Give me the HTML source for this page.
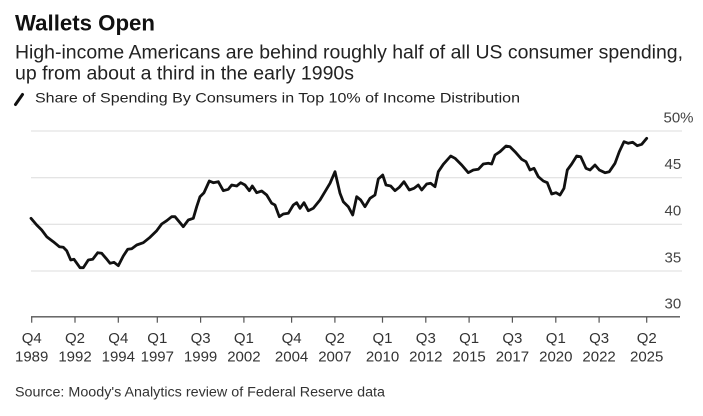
<!DOCTYPE html>
<html>
<head>
<meta charset="utf-8">
<style>
  html, body { margin:0; padding:0; background:#fff; }
  svg { display:block; }
  text { font-family: "Liberation Sans", Arial, sans-serif; }
</style>
</head>
<body>
<svg width="703" height="416" viewBox="0 0 703 416" xmlns="http://www.w3.org/2000/svg">
  <rect x="0" y="0" width="703" height="416" fill="#ffffff"/>

  <!-- Title -->
  <text x="15" y="30.5" font-size="22" font-weight="bold" fill="#111" textLength="140" lengthAdjust="spacingAndGlyphs">Wallets Open</text>
  <!-- Subtitle -->
  <text x="15" y="58.5" font-size="19" fill="#222" textLength="668" lengthAdjust="spacingAndGlyphs">High-income Americans are behind roughly half of all US consumer spending,</text>
  <text x="15" y="79.5" font-size="19" fill="#222" textLength="339" lengthAdjust="spacingAndGlyphs">up from about a third in the early 1990s</text>

  <!-- Legend -->
  <line x1="15.5" y1="104.5" x2="22.5" y2="94.5" stroke="#111" stroke-width="3" stroke-linecap="round"/>
  <text x="35" y="102.5" font-size="14" fill="#222" textLength="485" lengthAdjust="spacingAndGlyphs">Share of Spending By Consumers in Top 10% of Income Distribution</text>

  <!-- Gridlines -->
  <g stroke="#dcdcdc" stroke-width="1">
    <line x1="31" y1="131" x2="682" y2="131"/>
    <line x1="31" y1="177.7" x2="682" y2="177.7"/>
    <line x1="31" y1="224.3" x2="682" y2="224.3"/>
    <line x1="31" y1="271" x2="682" y2="271"/>
  </g>

  <!-- Y labels -->
  <g font-size="15" fill="#444">
    <text x="663.5" y="122.3">50%</text>
    <text x="664.5" y="169">45</text>
    <text x="664.5" y="215.7">40</text>
    <text x="664.5" y="262.3">35</text>
    <text x="664.5" y="308.5">30</text>
  </g>

  <!-- X axis -->
  <line x1="31" y1="316.8" x2="680" y2="316.8" stroke="#555" stroke-width="1.3"/>
  <g stroke="#555" stroke-width="1.2">
    <line x1="31.7" y1="316.8" x2="31.7" y2="322.7"/>
    <line x1="75" y1="316.8" x2="75" y2="322.7"/>
    <line x1="118.3" y1="316.8" x2="118.3" y2="322.7"/>
    <line x1="157.3" y1="316.8" x2="157.3" y2="322.7"/>
    <line x1="200.6" y1="316.8" x2="200.6" y2="322.7"/>
    <line x1="243.9" y1="316.8" x2="243.9" y2="322.7"/>
    <line x1="291.6" y1="316.8" x2="291.6" y2="322.7"/>
    <line x1="334.9" y1="316.8" x2="334.9" y2="322.7"/>
    <line x1="382.5" y1="316.8" x2="382.5" y2="322.7"/>
    <line x1="425.8" y1="316.8" x2="425.8" y2="322.7"/>
    <line x1="469.1" y1="316.8" x2="469.1" y2="322.7"/>
    <line x1="512.4" y1="316.8" x2="512.4" y2="322.7"/>
    <line x1="555.8" y1="316.8" x2="555.8" y2="322.7"/>
    <line x1="599.1" y1="316.8" x2="599.1" y2="322.7"/>
    <line x1="646.7" y1="316.8" x2="646.7" y2="322.7"/>
  </g>

  <!-- X labels -->
  <g font-size="15" fill="#333" text-anchor="middle">
    <text x="31.7" y="343">Q4</text><text x="31.7" y="361.5">1989</text>
    <text x="75" y="343">Q2</text><text x="75" y="361.5">1992</text>
    <text x="118.3" y="343">Q4</text><text x="118.3" y="361.5">1994</text>
    <text x="157.3" y="343">Q1</text><text x="157.3" y="361.5">1997</text>
    <text x="200.6" y="343">Q3</text><text x="200.6" y="361.5">1999</text>
    <text x="243.9" y="343">Q1</text><text x="243.9" y="361.5">2002</text>
    <text x="291.6" y="343">Q4</text><text x="291.6" y="361.5">2004</text>
    <text x="334.9" y="343">Q2</text><text x="334.9" y="361.5">2007</text>
    <text x="382.5" y="343">Q1</text><text x="382.5" y="361.5">2010</text>
    <text x="425.8" y="343">Q3</text><text x="425.8" y="361.5">2012</text>
    <text x="469.1" y="343">Q1</text><text x="469.1" y="361.5">2015</text>
    <text x="512.4" y="343">Q3</text><text x="512.4" y="361.5">2017</text>
    <text x="555.8" y="343">Q1</text><text x="555.8" y="361.5">2020</text>
    <text x="599.1" y="343">Q3</text><text x="599.1" y="361.5">2022</text>
    <text x="646.7" y="343">Q2</text><text x="646.7" y="361.5">2025</text>
  </g>

  <!-- Data line -->
  <polyline fill="none" stroke="#111" stroke-width="2.8" stroke-linejoin="round" stroke-linecap="round"
    points="31,218.3 36.7,225 41.7,230 46.7,236.7 53.3,241.7 59.3,246.7 63.3,247.3 66.7,250.7 70.7,260 74,259.3 80,267.7 83.3,267.7 88.3,260 92.7,259.3 97.7,252.7 101.7,253.3 106,258.3 110,263.3 114,262.3 118.3,265.7 123.3,256 127.7,249.3 131.7,248.7 136.7,245 143.3,242.7 150,237.3 156.7,230.7 161.7,224 166.7,220.7 171.7,216.7 175,216.7 180,222.7 183.3,226.7 188.3,220 193.3,218.3 196.7,206.7 200,196.7 204,192.7 209.3,181 213.3,182.7 218.3,181.7 223.3,190.7 228.3,189.3 231.7,185 236.7,186 240.7,182.7 245,185 249.3,190.7 252.3,186 256.7,192.7 261.7,191 266.7,195 271.7,203.3 275,205 279.3,216.7 283.3,214 288.3,213.3 293.3,205 296.7,202.7 300,208.3 304,202.7 308.3,210.7 313.3,208.3 320,200 325,191.7 330,183.3 335,171.7 340,193.3 343.3,201.7 348.3,206.7 352.7,215 356.7,196.7 360.7,200 365,206.7 370,198.3 375,195 378.3,179 382.7,175 386,185 390.7,186 395,190.7 399.3,187.3 404,181.7 409.3,190 414,188.3 418.3,185 421.7,190 426.7,184 430.7,183.3 435,186.7 438.3,171.7 443.3,164.3 450.7,156 455,158.3 461.7,165 468.3,172.7 473.3,170 478.3,169.3 483.3,164 488.3,163.3 491.7,164 495,155 500,151.7 506,146 510,146.7 515,151.7 521.7,159.3 526,161.7 530,170 534,168.3 538.3,176.7 543.3,181 547.3,182.7 551.7,194 556,192.7 560,195 564,188.3 567.3,170 571.7,164 576.7,156 580.7,156.7 586,168.3 590,170 595,165 599.3,170 605,172.7 609.3,171.7 615,163.3 619.3,151.7 624,141.7 628.3,143.3 632.7,142.3 637.3,145.7 641.7,144.3 646.7,138.3"/>

  <!-- Source -->
  <text x="15" y="396.7" font-size="13.5" fill="#333" textLength="370" lengthAdjust="spacingAndGlyphs">Source: Moody's Analytics review of Federal Reserve data</text>
</svg>
</body>
</html>
